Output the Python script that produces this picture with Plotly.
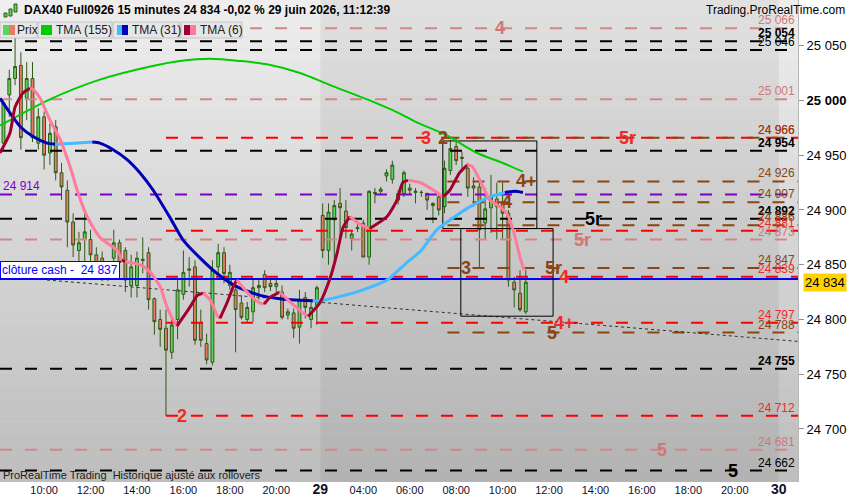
import plotly.graph_objects as go

# ---------------- data ----------------
BAR_INDEX = list(range(-7, 84))  # 15-minute bars, 0 = 28 juin 10:00
OPEN = [24961, 25005, 25020, 25032, 25002, 25020, 24961, 24985, 24952, 24976,
        24934, 24918, 24889, 24863, 24873, 24873, 24859, 24856, 24842, 24856,
        24870, 24863, 24831, 24831, 24855, 24861, 24819, 24800, 24792, 24770,
        24800, 24823, 24845, 24848, 24797, 24778, 24761, 24848, 24861, 24831,
        24827, 24815, 24800, 24807, 24829, 24841, 24833, 24830, 24825, 24804,
        24806, 24793, 24820, 24800, 24813, 24895, 24863, 24891, 24906, 24899,
        24874, 24884, 24888, 24857, 24915, 24917, 24931, 24928, 24915, 24915,
        24920, 24916, 24916, 24915, 24904, 24912, 24903, 24936, 24958, 24947,
        24938, 24920, 24921, 24888, 24902, 24910, 24907, 24897, 24834, 24824,
        24807]
HIGH = [25000, 25028, 25057, 25044, 25035, 25035, 24993, 24990, 24979, 24982,
        24943, 24927, 24897, 24880, 24897, 24882, 24866, 24862, 24852, 24882,
        24873, 24866, 24859, 24862, 24875, 24866, 24820, 24809, 24809, 24801,
        24836, 24863, 24857, 24854, 24809, 24787, 24854, 24869, 24866, 24850,
        24836, 24822, 24816, 24836, 24836, 24845, 24838, 24838, 24831, 24810,
        24810, 24827, 24825, 24818, 24831, 24906, 24906, 24909, 24920, 24909,
        24881, 24887, 24891, 24918, 24920, 24921, 24937, 24945, 24918, 24936,
        24924, 24920, 24918, 24916, 24907, 24914, 24945, 24964, 24966, 24953,
        24943, 24930, 24925, 24920, 24932, 24925, 24925, 24900, 24839, 24845,
        24845]
LOW = [24955, 24985, 25014, 24955, 24982, 24962, 24955, 24937, 24941, 24927,
       24909, 24866, 24857, 24848, 24852, 24842, 24842, 24835, 24835, 24845,
       24840, 24825, 24820, 24820, 24842, 24809, 24786, 24775, 24712, 24764,
       24782, 24818, 24830, 24777, 24775, 24759, 24758, 24841, 24833, 24827,
       24770, 24800, 24797, 24798, 24818, 24825, 24826, 24825, 24800, 24800,
       24783, 24778, 24801, 24792, 24795, 24856, 24850, 24854, 24870, 24874,
       24863, 24880, 24857, 24850, 24906, 24914, 24926, 24924, 24905, 24912,
       24914, 24906, 24912, 24900, 24888, 24895, 24897, 24932, 24941, 24935,
       24912, 24903, 24847, 24873, 24879, 24873, 24873, 24830, 24811, 24807,
       24805]
CLOSE = [24998, 25020, 25031, 24966, 25020, 24966, 24985, 24950, 24970, 24934,
         24921, 24889, 24868, 24870, 24880, 24859, 24848, 24842, 24846, 24870,
         24852, 24836, 24848, 24856, 24854, 24818, 24798, 24791, 24772, 24795,
         24827, 24843, 24846, 24781, 24781, 24763, 24845, 24861, 24842, 24843,
         24809, 24802, 24811, 24829, 24831, 24829, 24830, 24833, 24802, 24807,
         24792, 24818, 24811, 24811, 24829, 24863, 24898, 24904, 24902, 24884,
         24878, 24883, 24857, 24917, 24916, 24919, 24934, 24941, 24909, 24934,
         24918, 24917, 24916, 24909, 24906, 24900, 24938, 24956, 24945, 24948,
         24920, 24922, 24882, 24901, 24912, 24903, 24897, 24836, 24827, 24809,
         24834]

TMA155_X = [-7.6, 1.0, 9.6, 18.3, 23.4, 28.6, 33.8, 38.4, 44.1, 49.3, 56.1,
            61.3, 64.2, 69.4, 74.6, 78.5, 82.5]
TMA155_Y = [24977, 25001, 25019, 25031, 25036, 25038, 25036, 25033, 25025,
            25014, 25000, 24988, 24980, 24968, 24952, 24944, 24935]

TMA31_X = [-7.6, -5.0, -4.1, -1.9, 0.5, 1.9, 5.3, 8.3, 9.6, 11.9, 14.3, 16.5,
           18.8, 21.7, 23.9, 26.9, 29.8, 33.2, 37.2, 40.6, 46.3, 47.5, 53.2,
           59.1, 62.5, 64.8, 67.7, 70.0, 73.4, 76.8, 79.4, 81.1, 82.5]
TMA31_Y = [25002, 24982, 24976, 24967, 24961, 24960, 24961, 24962, 24961,
           24955, 24946, 24934, 24918, 24893, 24873, 24856, 24842, 24830,
           24822, 24819, 24817, 24817, 24824, 24836, 24852, 24862, 24882,
           24891, 24903, 24912, 24916, 24917, 24916]
TMA31_TURNS = [5, 7, 20, 30]          # colour changes (falling first)

TMA6_X = [-7.6, -5.9, -5.0, -3.6, -2.4, -1.9, -0.7, 1.0, 2.8, 4.5, 5.7, 7.4,
          9.6, 12.6, 13.4, 14.0, 16.5, 18.3, 20.0, 21.2, 22.2, 22.9, 25.1,
          26.4, 27.4, 28.6, 29.8, 30.3, 31.5, 32.6, 33.2, 35.5, 37.2, 37.9,
          38.9, 40.6, 42.4, 44.6, 45.5, 47.5, 49.3, 50.5, 51.5, 52.7, 54.4,
          56.1, 59.1, 60.8, 61.8, 62.7, 64.8, 67.7, 68.7, 69.9, 71.6, 72.9,
          73.7, 75.1, 76.8, 78.5, 79.7, 80.8, 82.0, 82.7]
TMA6_Y = [24952, 24970, 24994, 25007, 25011, 25010, 25002, 24982, 24964, 24939,
          24918, 24894, 24875, 24863, 24854, 24853, 24850, 24843, 24830, 24811,
          24800, 24794, 24811, 24822, 24824, 24818, 24804, 24801, 24815, 24830,
          24836, 24822, 24815, 24814, 24820, 24825, 24816, 24806, 24803, 24815,
          24838, 24861, 24884, 24894, 24887, 24883, 24894, 24909, 24925, 24927,
          24925, 24916, 24912, 24918, 24934, 24941, 24940, 24927, 24909, 24903,
          24897, 24882, 24857, 24845]
TMA6_TURNS = [4, 14, 15, 21, 24, 27, 30, 33, 35, 38, 43, 45, 49, 52, 55]  # rising first

LEVEL_VALUES = [25066, 25054, 25046, 25001, 24966, 24966, 24954, 24926, 24914,
                24907, 24892, 24886, 24881, 24873, 24847, 24839, 24797, 24788,
                24755, 24712, 24681, 24662]
LEVEL_GROUPS = ["pale", "black", "black", "pale", "red", "brown", "black",
                "brown", "purple", "brown", "black", "brown", "red", "pale",
                "brown", "red", "red", "brown", "black", "red", "pale", "black"]
GROUP_START = {"red": 21, "brown": 69.5}

CASH_CLOSE = 24837
LAST_PRICE = 24834
TREND_X = [0.5, 129.9]
TREND_Y = [24836, 24780]

BOX_X0 = [68.7, 71.8]
BOX_X1 = [84.9, 87.7]
BOX_Y0 = [24883, 24803]
BOX_Y1 = [24963, 24883]

MARK_TEXT = ["4", "3", "2", "5r", "4+", "4", "5r", "5r", "3", "5r", "4", "4+",
             "5", "2", "5", "5"]
MARK_X = [78.5, 65.8, 68.7, 100.6, 83.2, 79.7, 94.6, 92.8, 72.7, 87.7, 89.6,
          89.6, 87.5, 23.8, 106.4, 118.7]
MARK_Y = [25066, 24966, 24966, 24966, 24926, 24907, 24892, 24873, 24847,
          24847, 24839, 24797, 24788, 24712, 24681, 24662]
MARK_GROUP = ["pale", "red", "brown", "red", "brown", "brown", "black", "pale",
              "brown", "brown", "red", "red", "brown", "red", "pale", "black"]

X_TICKS = [0, 8, 16, 24, 32, 40, 47.6, 55, 63, 71, 79, 87, 95, 103, 111, 119, 126.6]
X_LABELS = ["10:00", "12:00", "14:00", "16:00", "18:00", "20:00", "29",
            "04:00", "06:00", "08:00", "10:00", "12:00", "14:00", "16:00",
            "18:00", "20:00", "30"]
DAY_LABELS = {"29", "30"}
Y_TICKS = [24700, 24750, 24800, 24850, 24900, 24950, 25000, 25050]
X_RANGE = [-7.6, 129.9]
Y_RANGE = [24651.6, 25091.7]

# ---------------- styles ----------------
FONT = "Arial, Liberation Sans, sans-serif"
LINE_COL = {"black": "#000000", "red": "#ff0000", "pale": "#d68585",
            "brown": "#8b4510", "purple": "#7d00c8"}
TEXT_COL = {"black": "#000000", "red": "#f02828", "pale": "#cf7777",
            "brown": "#8b4510", "purple": "#7d00c8"}
UP, DOWN, OUTLINE = "#5ad45a", "#e57b68", "#2f5a17"
W, H = 850, 500
ML, MR, MT, MB = 0, 52, 0, 18
PW, PH = W - ML - MR, H - MT - MB


def fmt(v):
    return f"{v:,}".replace(",", " ")


def px(x):  # pixel -> paper x
    return (x - ML) / PW


def py(y):  # pixel -> paper y
    return 1 - (y - MT) / PH


fig = go.Figure()

fig.add_trace(go.Candlestick(
    x=BAR_INDEX, open=OPEN, high=HIGH, low=LOW, close=CLOSE,
    increasing=dict(fillcolor=UP, line=dict(color=OUTLINE, width=1)),
    decreasing=dict(fillcolor=DOWN, line=dict(color=OUTLINE, width=1)),
    whiskerwidth=0, hoverinfo="skip", showlegend=False))

# horizontal levels
for v, g in zip(LEVEL_VALUES, LEVEL_GROUPS):
    x0 = GROUP_START.get(g, X_RANGE[0])
    fig.add_trace(go.Scatter(x=[x0, X_RANGE[1]], y=[v, v], mode="lines",
                             line=dict(color=LINE_COL[g], width=2, dash="12px,13px"),
                             hoverinfo="skip", showlegend=False))

# cash close line
fig.add_trace(go.Scatter(x=X_RANGE, y=[CASH_CLOSE, CASH_CLOSE], mode="lines",
                         line=dict(color="#0000ff", width=2), hoverinfo="skip",
                         showlegend=False))
# trend line
fig.add_trace(go.Scatter(x=TREND_X, y=TREND_Y, mode="lines",
                         line=dict(color="#303030", width=1, dash="3px,3px"),
                         hoverinfo="skip", showlegend=False))

# boxes
for x0, x1, y0, y1 in zip(BOX_X0, BOX_X1, BOX_Y0, BOX_Y1):
    fig.add_trace(go.Scatter(x=[x0, x1, x1, x0, x0], y=[y0, y0, y1, y1, y0],
                             mode="lines", line=dict(color="#000000", width=1),
                             hoverinfo="skip", showlegend=False))


def add_segments(xs, ys, turns, colors, width):
    bounds = [0] + turns + [len(xs) - 1]
    for k in range(len(bounds) - 1):
        a, b = bounds[k], bounds[k + 1]
        fig.add_trace(go.Scatter(x=xs[a:b + 1], y=ys[a:b + 1], mode="lines",
                                 line=dict(color=colors[k % 2], width=width,
                                           shape="spline", smoothing=0.6),
                                 hoverinfo="skip", showlegend=False))


fig.add_trace(go.Scatter(x=TMA155_X, y=TMA155_Y, mode="lines",
                         line=dict(color="#00cc00", width=2, shape="spline", smoothing=0.8),
                         hoverinfo="skip", showlegend=False))
add_segments(TMA31_X, TMA31_Y, TMA31_TURNS, ["#0000b4", "#45bbff"], 3)
add_segments(TMA6_X, TMA6_Y, TMA6_TURNS, ["#a0002e", "#ff7a9c"], 3)

# ---------------- shapes (background) ----------------
shapes = []
N = 40
for k in range(N):
    t = k / (N - 1)
    c = int(238 - 48 * t)
    shapes.append(dict(type="rect", xref="paper", yref="paper", x0=0, x1=1,
                       y0=1 - (k + 1) / N, y1=1 - k / N, layer="below",
                       line=dict(width=0), fillcolor=f"rgb({c},{c},{c})"))
shapes.append(dict(type="rect", xref="x", yref="paper",
                   x0=X_TICKS[X_LABELS.index("29")], x1=X_TICKS[X_LABELS.index("30")],
                   y0=0, y1=1, layer="below", line=dict(width=0),
                   fillcolor="rgba(0,0,0,0.055)"))

# legend boxes
legend_boxes = [(0, 37), (38, 112), (113, 180), (181, 242)]
for a, b in legend_boxes:
    shapes.append(dict(type="rect", xref="paper", yref="paper", x0=px(a), x1=px(b),
                       y0=py(38), y1=py(22), line=dict(color="#c4c4c4", width=1),
                       fillcolor="#e6e6e6"))
swatches = [(3, 9, UP), (9, 15, DOWN), (41, 52, "#00cc00"), (117, 122, "#45bbff"),
            (122, 128, "#0000b4"), (184, 190, "#a0002e"), (190, 196, "#ff7a9c")]
for a, b, c in swatches:
    shapes.append(dict(type="rect", xref="paper", yref="paper", x0=px(a), x1=px(b),
                       y0=py(35), y1=py(25), line=dict(width=0), fillcolor=c))
# header icon
for a, b, t, bt in [(4, 7, 13, 17), (9, 12, 9, 16), (14, 17, 4, 12)]:
    shapes.append(dict(type="rect", xref="paper", yref="paper", x0=px(a), x1=px(b),
                       y0=py(bt), y1=py(t), line=dict(color=OUTLINE, width=1),
                       fillcolor=UP))

# ---------------- annotations ----------------
ann = []
for v, g in zip(LEVEL_VALUES, LEVEL_GROUPS):
    if g == "purple":
        ann.append(dict(xref="paper", x=0, xanchor="left", xshift=1, yref="y", y=v,
                        yanchor="bottom", text=fmt(v), showarrow=False,
                        font=dict(family=FONT, size=12, color=TEXT_COL[g])))
        continue
    bold = g == "black" and v in (24892, 24755, 24954, 25054)
    ann.append(dict(xref="paper", x=1, xanchor="right", xshift=-1, yref="y", y=v,
                    yanchor="bottom", yshift=-1,
                    text=f"<b>{fmt(v)}</b>" if bold else fmt(v), showarrow=False,
                    font=dict(family=FONT, size=12, color=TEXT_COL[g])))

for t, x, v, g in zip(MARK_TEXT, MARK_X, MARK_Y, MARK_GROUP):
    ann.append(dict(x=x, y=v, xref="x", yref="y", text=f"<b>{t}</b>", showarrow=False,
                    xanchor="center", yanchor="middle",
                    font=dict(family=FONT, size=18, color=TEXT_COL[g])))

ann.append(dict(xref="paper", x=0, xanchor="left", yref="y", y=CASH_CLOSE,
                yanchor="bottom", text="clôture cash -\u00a0\u00a0" + fmt(CASH_CLOSE),
                showarrow=False, bgcolor="#ffffff", bordercolor="#0000ff",
                borderwidth=1, borderpad=1,
                font=dict(family=FONT, size=12, color="#0000ff")))
ann.append(dict(xref="paper", x=1, xanchor="left", xshift=5, yref="y", y=LAST_PRICE,
                yanchor="middle", text=fmt(LAST_PRICE), showarrow=False,
                bgcolor="#ffd200", borderpad=1,
                font=dict(family=FONT, size=13, color="#000000")))

ann.append(dict(xref="paper", yref="paper", x=px(22), y=py(10), xanchor="left",
                yanchor="middle", showarrow=False,
                text="<b>DAX40 Full0926 15 minutes 24 834 -0,02 % 29 juin 2026, 11:12:39</b>",
                font=dict(family=FONT, size=12, color="#000000")))
ann.append(dict(xref="paper", yref="paper", x=px(847), y=py(10), xanchor="right",
                yanchor="middle", showarrow=False, text="Trading.ProRealTime.com",
                font=dict(family=FONT, size=12, color="#000000")))
for x, t in [(15, "Prix"), (54, "TMA (155)"), (130, "TMA (31)"), (198, "TMA (6)")]:
    ann.append(dict(xref="paper", yref="paper", x=px(x), y=py(30), xanchor="left",
                    yanchor="middle", showarrow=False, text=t,
                    font=dict(family=FONT, size=12, color="#202020")))
ann.append(dict(xref="paper", yref="paper", x=px(1), y=py(475), xanchor="left",
                yanchor="middle", showarrow=False,
                text="ProRealTime Trading  Historique ajusté aux rollovers",
                font=dict(family=FONT, size=11, color="#202020")))

tick_text = [f'<span style="font-size:14px"><b>{t}</b></span>' if t in DAY_LABELS else t
             for t in X_LABELS]
y_text = [f"<b>{fmt(v)}</b>" if v == 25000 else fmt(v) for v in Y_TICKS]

fig.update_layout(
    width=W, height=H, margin=dict(l=ML, r=MR, t=MT, b=MB),
    paper_bgcolor="#ffffff", plot_bgcolor="#d4d4d4",
    shapes=shapes, annotations=ann, showlegend=False,
    font=dict(family=FONT, color="#000000"),
    xaxis=dict(range=X_RANGE, tickvals=X_TICKS, ticktext=tick_text, showgrid=False,
               zeroline=False, showline=False, ticks="", rangeslider=dict(visible=False),
               tickfont=dict(family=FONT, size=11, color="#10102a")),
    yaxis=dict(range=Y_RANGE, side="right", tickvals=Y_TICKS, ticktext=y_text,
               showgrid=False, zeroline=False, showline=True, linecolor="#b8b8b8",
               ticks="outside", ticklen=5, tickcolor="#909090",
               tickfont=dict(family=FONT, size=13, color="#000000")),
)

fig.write_html("out.html", config={"displayModeBar": False},
               post_script="document.body.style.margin='0';document.body.style.overflow='hidden';")
